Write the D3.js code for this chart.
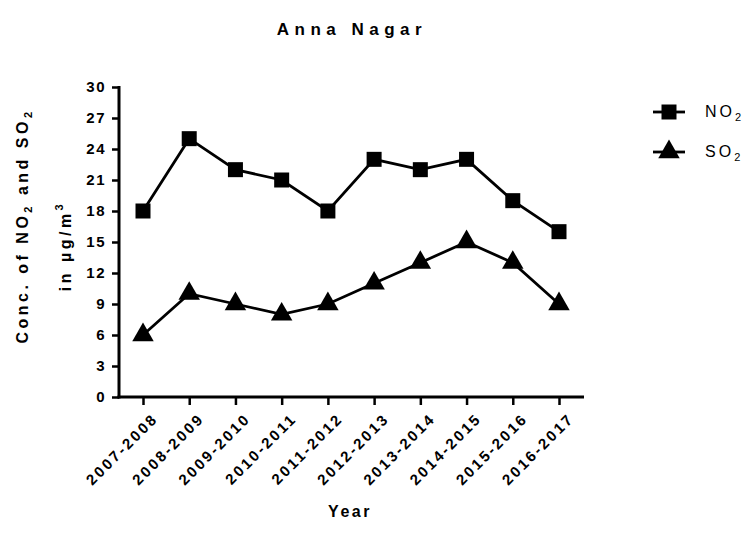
<!DOCTYPE html>
<html>
<head>
<meta charset="utf-8">
<script src="https://cdn.jsdelivr.net/npm/d3@7"></script>
<style>
  body { margin: 0; background: #fff; }
  text { font-family: Arial, "Liberation Sans", sans-serif; }
</style>
</head>
<body>
<svg id="chart" width="750" height="544"></svg>
<script>
var years = ['2007-2008', '2008-2009', '2009-2010', '2010-2011', '2011-2012',
  '2012-2013', '2013-2014', '2014-2015', '2015-2016', '2016-2017'];
var no2 = [18, 25, 22, 21, 18, 23, 22, 23, 19, 16];
var so2 = [6, 10, 9, 8, 9, 11, 13, 15, 13, 9];
var yTicks = [0, 3, 6, 9, 12, 15, 18, 21, 24, 27, 30];

var svg = d3.select('#chart');

var x = d3.scalePoint().domain(years).range([143, 559]);
var y = d3.scaleLinear().domain([0, 30]).range([397, 87]);

svg.append('rect')
  .attr('width', 750)
  .attr('height', 544)
  .style('fill', '#ffffff');

// title
svg.append('text')
  .attr('x', 352)
  .attr('y', 35)
  .style('text-anchor', 'middle')
  .style('font-size', '17px')
  .style('font-weight', 'bold')
  .style('letter-spacing', '5.5px')
  .text('Anna Nagar');

// y axis
var yAxis = svg.append('g')
  .attr('transform', 'translate(119,0)')
  .call(d3.axisLeft(y).tickValues(yTicks).tickSize(7).tickPadding(6));

yAxis.select('.domain').remove();
yAxis.append('line')
  .attr('x1', 0).attr('x2', 0)
  .attr('y1', y(30) - 1).attr('y2', y(0) + 1.5)
  .attr('stroke', '#000').attr('stroke-width', 3);
yAxis.selectAll('.tick line').attr('stroke-width', 2.5);
yAxis.selectAll('.tick text')
  .style('font-size', '15px')
  .style('font-weight', 'bold')
  .style('letter-spacing', '1.5px')
  .style('fill', '#000');

// x axis
var xAxis = svg.append('g')
  .attr('transform', 'translate(0,397)')
  .call(d3.axisBottom(x).tickSize(8).tickPadding(4));

xAxis.select('.domain').remove();
xAxis.append('line')
  .attr('x1', 117.5).attr('x2', 584)
  .attr('y1', 0).attr('y2', 0)
  .attr('stroke', '#000').attr('stroke-width', 3);
xAxis.selectAll('.tick line').attr('stroke-width', 2.5);
xAxis.selectAll('.tick text')
  .style('font-size', '15px')
  .style('font-weight', 'bold')
  .style('letter-spacing', '2.5px')
  .style('fill', '#000')
  .style('text-anchor', 'end')
  .attr('dy', null)
  .attr('transform', 'translate(7,14) rotate(-45)');

// axis titles
svg.append('text')
  .attr('x', 350)
  .attr('y', 517)
  .style('text-anchor', 'middle')
  .style('font-size', '16px')
  .style('font-weight', 'bold')
  .style('letter-spacing', '2.5px')
  .text('Year');

var yTitle = svg.append('text')
  .attr('transform', 'translate(28,226) rotate(-90)')
  .style('text-anchor', 'middle')
  .style('font-size', '16px')
  .style('font-weight', 'bold')
  .style('letter-spacing', '3.5px');
yTitle.append('tspan').text('Conc. of NO');
yTitle.append('tspan').attr('dy', 4).style('font-size', '11px').text('2');
yTitle.append('tspan').attr('dy', -4).text(' and SO');
yTitle.append('tspan').attr('dy', 4).style('font-size', '11px').text('2');

var yTitle2 = svg.append('text')
  .attr('transform', 'translate(71,246) rotate(-90)')
  .style('text-anchor', 'middle')
  .style('font-size', '16px')
  .style('font-weight', 'bold')
  .style('letter-spacing', '3.5px');
yTitle2.append('tspan').text('in µg/m');
yTitle2.append('tspan').attr('dy', -8).style('font-size', '11px').text('3');

// series
var series = [
  { name: 'NO', values: no2, symbol: d3.symbolSquare, size: 225 },
  { name: 'SO', values: so2, symbol: d3.symbolTriangle, size: 200 }
];

var line = d3.line()
  .x(function(d, i) { return x(years[i]); })
  .y(function(d) { return y(d); });

series.forEach(function(s, k) {
  svg.append('path')
    .attr('d', line(s.values))
    .attr('fill', 'none')
    .attr('stroke', '#000')
    .attr('stroke-width', 2.8);

  svg.selectAll('.pt-' + k)
    .data(s.values)
    .enter()
    .append('path')
    .attr('class', 'pt-' + k)
    .attr('d', d3.symbol().type(s.symbol).size(s.size))
    .attr('transform', function(d, i) {
      return 'translate(' + x(years[i]) + ',' + y(d) + ')';
    })
    .attr('fill', '#000');

  // legend
  var ly = 112 + k * 40;
  var lg = svg.append('g').attr('transform', 'translate(669,' + ly + ')');
  lg.append('line')
    .attr('x1', -16).attr('x2', 16)
    .attr('stroke', '#000').attr('stroke-width', 2.8);
  lg.append('path')
    .attr('d', d3.symbol().type(s.symbol).size(s.size))
    .attr('fill', '#000');
  var lt = lg.append('text')
    .attr('x', 36)
    .attr('y', 5)
    .style('font-size', '16px')
    .style('letter-spacing', '3px');
  lt.append('tspan').text(s.name);
  lt.append('tspan').attr('dy', 4).style('font-size', '11px').text('2');
});
</script>
</body>
</html>
